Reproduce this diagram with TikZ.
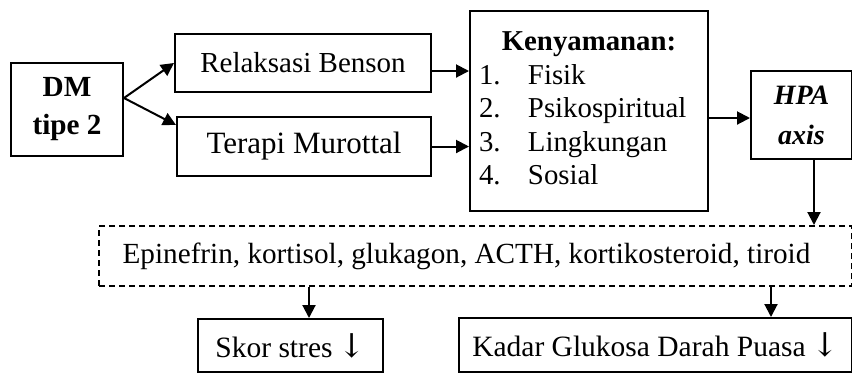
\documentclass[tikz,border=0pt]{standalone}
\usepackage{fontspec}
\setmainfont{Liberation Serif}
\newfontfamily\arrowfont{DejaVu Serif}
\usetikzlibrary{arrows.meta,calc}
\tikzset{
  box/.style={draw, line width=1pt, rectangle, inner sep=0pt, anchor=north west},
  dashbox/.style={box, dash pattern=on 3pt off 2pt},
  arr/.style={line width=1pt, -{Triangle[length=6.5pt,width=6.5pt]}},
}
\newcommand{\dnarrow}{\hspace{-1pt}{\arrowfont\fontsize{16.5}{16.5}\selectfont ↓}}
\begin{document}
\begin{tikzpicture}[x=0.5pt,y=-0.5pt]
\useasboundingbox (0,0) rectangle (852,372);
\node[box, minimum width=56pt, minimum height=46.5pt, align=center,
      font=\fontsize{14.6}{19}\selectfont\bfseries] (dm) at (10,62) {DM\\tipe 2};
\node[box, minimum width=128pt, minimum height=29pt,
      font=\fontsize{14.5}{17}\selectfont] (rb) at (174,33) {Relaksasi Benson};
\node[box, minimum width=127pt, minimum height=29.5pt,
      font=\fontsize{15.5}{18}\selectfont] (tm) at (176,116) {Terapi Murottal};
\node[box, minimum width=119pt, minimum height=100pt,
      font=\fontsize{14.4}{16.75}\selectfont] (kn) at (469,10)
  {\begin{tabular}{@{}p{24.5pt}@{}p{85.5pt}@{}}
   \multicolumn{2}{@{}c@{}}{\textbf{Kenyamanan:}}\\
   1. & Fisik\\
   2. & Psikospiritual\\
   3. & Lingkungan\\
   4. & Sosial
   \end{tabular}};
\node[box, minimum width=50.5pt, minimum height=44pt, align=center,
      font=\fontsize{14}{20}\selectfont\bfseries\itshape] (hpa) at (750,70) {HPA\\axis};
\node[dashbox, minimum width=376.5pt, minimum height=30pt,
      font=\fontsize{14.6}{17}\selectfont] (ep) at (98,225)
  {Epinefrin, kortisol, glukagon, ACTH, kortikosteroid, tiroid\hspace*{9pt}};
\node[box, minimum width=92.5pt, minimum height=26.5pt,
      font=\fontsize{14.75}{17}\selectfont] (sk) at (197,318) {Skor stres \dnarrow};
\node[box, minimum width=196.5pt, minimum height=27pt,
      font=\fontsize{14.75}{17}\selectfont] (kd) at (458,317) {Kadar Glukosa Darah Puasa \dnarrow};

\draw[arr] ([yshift=5.75pt]dm.east) -- (rb.west);
\draw[arr] ([yshift=5.75pt]dm.east) -- ([yshift=-4.5pt]tm.north west);
\draw[arr] ([yshift=-4pt]rb.east) -- ([yshift=-4pt]rb.east -| kn.west);
\draw[arr] (tm.east) -- (tm.east -| kn.west);
\draw[arr] ([yshift=-1.5pt]hpa.west -| kn.east) -- ([yshift=-1.5pt]hpa.west);
\draw[arr] ([xshift=6.25pt]hpa.south) -- ([xshift=6.25pt]hpa.south |- ep.north);
\draw[arr] ([xshift=9.25pt]sk.north |- ep.south) -- ([xshift=9.25pt]sk.north);
\draw[arr] ([xshift=57.75pt]kd.north |- ep.south) -- ([xshift=57.75pt]kd.north);
\end{tikzpicture}
\end{document}
